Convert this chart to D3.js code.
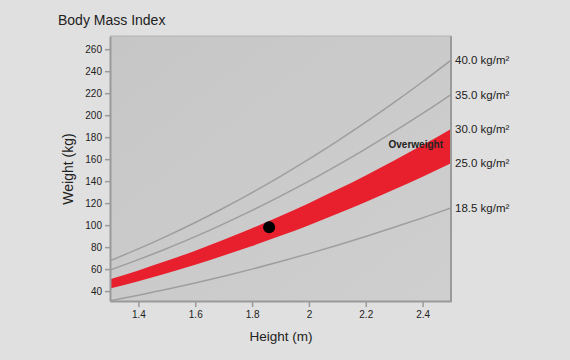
<!DOCTYPE html>
<html>
<head>
<meta charset="utf-8">
<script src="https://cdn.jsdelivr.net/npm/d3@7"></script>
<style>
  html, body { margin: 0; padding: 0; background: #e0e0e0; }
  svg { display: block; font-family: "Liberation Sans", Arial, sans-serif; }
</style>
</head>
<body>
<svg id="chart" width="570" height="360"></svg>
<script>
// heights (m) where the BMI curves were read
const heights = [1.3, 1.4, 1.5, 1.6, 1.7, 1.8, 1.9, 2.0, 2.1, 2.2, 2.3, 2.4, 2.5];

// weight (kg) on each BMI line at those heights
const bmiLabels = ['18.5 kg/m²', '25.0 kg/m²', '30.0 kg/m²', '35.0 kg/m²', '40.0 kg/m²'];
const bmi185 = [31.3, 36.3, 41.6, 47.4, 53.5, 60.0, 66.9, 74.1, 81.7, 89.7, 98.0, 106.6, 115.6];
const bmi25  = [42.3, 49.0, 56.3, 64.0, 72.3, 81.0, 90.3, 100.0, 110.3, 121.0, 132.3, 144.0, 156.3];
const bmi30  = [50.7, 58.8, 67.5, 76.8, 86.7, 97.2, 108.3, 120.0, 132.3, 145.2, 158.7, 172.8, 187.5];
const bmi35  = [59.2, 68.6, 78.8, 89.6, 101.2, 113.4, 126.4, 140.0, 154.4, 169.4, 185.2, 201.6, 218.8];
const bmi40  = [67.6, 78.4, 90.0, 102.4, 115.6, 129.6, 144.4, 160.0, 176.4, 193.6, 211.6, 230.4, 250.0];
const bmiLines = [bmi185, bmi25, bmi30, bmi35, bmi40];

const xTicks = [1.4, 1.6, 1.8, 2.0, 2.2, 2.4];
const yTicks = [40, 60, 80, 100, 120, 140, 160, 180, 200, 220, 240, 260];

// the marked person
const person = { height: 1.86, weight: 98 };

const svg = d3.select('#chart');
const plotLeft = 110, plotRight = 451, plotTop = 36, plotBottom = 301;

const x = d3.scaleLinear().domain([1.3, 2.5]).range([plotLeft, plotRight]);
const y = d3.scaleLinear().domain([31, 272]).range([plotBottom, plotTop]);

// plot background
const defs = svg.append('defs');
const grad = defs.append('linearGradient')
  .attr('id', 'bg').attr('x1', 0).attr('y1', 0).attr('x2', 1).attr('y2', 1);
grad.append('stop').attr('offset', 0).attr('stop-color', '#c6c6c6');
grad.append('stop').attr('offset', 1).attr('stop-color', '#cfcfcf');

defs.append('clipPath').attr('id', 'plotClip')
  .append('rect')
  .attr('x', plotLeft).attr('y', plotTop)
  .attr('width', plotRight - plotLeft).attr('height', plotBottom - plotTop);

svg.append('rect')
  .attr('x', plotLeft).attr('y', plotTop)
  .attr('width', plotRight - plotLeft).attr('height', plotBottom - plotTop)
  .attr('fill', 'url(#bg)');

const plot = svg.append('g').attr('clip-path', 'url(#plotClip)');

// overweight band between BMI 25 and 30
const area = d3.area()
  .x((d, i) => x(heights[i]))
  .y0((d, i) => y(bmi25[i]))
  .y1((d, i) => y(bmi30[i]))
  .curve(d3.curveMonotoneX);

plot.append('path')
  .datum(heights)
  .attr('d', area)
  .attr('fill', '#e8202e');

// BMI lines
const line = d3.line()
  .x((d, i) => x(heights[i]))
  .y(d => y(d))
  .curve(d3.curveMonotoneX);

plot.selectAll('path.bmi')
  .data([bmi185, bmi35, bmi40])
  .enter()
  .append('path')
  .attr('class', 'bmi')
  .attr('d', line)
  .attr('fill', 'none')
  .attr('stroke', '#9e9e9e')
  .attr('stroke-width', 1.5);

plot.append('circle')
  .attr('cx', x(person.height))
  .attr('cy', y(person.weight))
  .attr('r', 6)
  .attr('fill', '#000');

plot.append('text')
  .attr('x', 443)
  .attr('y', 148)
  .attr('text-anchor', 'end')
  .attr('font-size', 10)
  .attr('font-weight', 'bold')
  .attr('fill', '#222')
  .text('Overweight');

// axes
const xAxis = svg.append('g')
  .attr('transform', `translate(0,${plotBottom})`)
  .call(d3.axisBottom(x).tickValues(xTicks).tickSize(6).tickSizeOuter(0).tickFormat(d3.format('')));
const yAxis = svg.append('g')
  .attr('transform', `translate(${plotLeft},0)`)
  .call(d3.axisLeft(y).tickValues(yTicks).tickSize(5).tickSizeOuter(0));

[xAxis, yAxis].forEach(g => {
  g.select('.domain').attr('stroke', '#9a9a9a').attr('stroke-width', 2);
  g.selectAll('.tick line').attr('stroke', '#9a9a9a').attr('stroke-width', 1.5);
  g.selectAll('.tick text')
    .attr('fill', '#222')
    .attr('font-size', 10)
    .attr('font-family', '"Liberation Sans", Arial, sans-serif');
});
xAxis.selectAll('.tick text').attr('dy', '0.8em');

// right frame line
svg.append('line')
  .attr('x1', plotRight).attr('x2', plotRight)
  .attr('y1', plotTop).attr('y2', plotBottom + 1)
  .attr('stroke', '#9a9a9a').attr('stroke-width', 2);
svg.append('line')
  .attr('x1', plotLeft).attr('x2', plotRight)
  .attr('y1', plotTop).attr('y2', plotTop)
  .attr('stroke', '#b4b4b4').attr('stroke-width', 1);

// BMI labels at right end
svg.selectAll('text.bmiLabel')
  .data(bmiLines)
  .enter()
  .append('text')
  .attr('class', 'bmiLabel')
  .attr('x', 455)
  .attr('y', d => y(d[d.length - 1]))
  .attr('dy', '0.35em')
  .attr('font-size', 11.5)
  .attr('fill', '#222')
  .text((d, i) => bmiLabels[i]);

// titles
svg.append('text')
  .attr('x', 58).attr('y', 25)
  .attr('font-size', 14)
  .attr('fill', '#222')
  .text('Body Mass Index');

svg.append('text')
  .attr('x', 281).attr('y', 341)
  .attr('text-anchor', 'middle')
  .attr('font-size', 13.5)
  .attr('fill', '#222')
  .text('Height (m)');

svg.append('text')
  .attr('transform', `translate(73,169) rotate(-90)`)
  .attr('text-anchor', 'middle')
  .attr('font-size', 14)
  .attr('fill', '#222')
  .text('Weight (kg)');
</script>
</body>
</html>
